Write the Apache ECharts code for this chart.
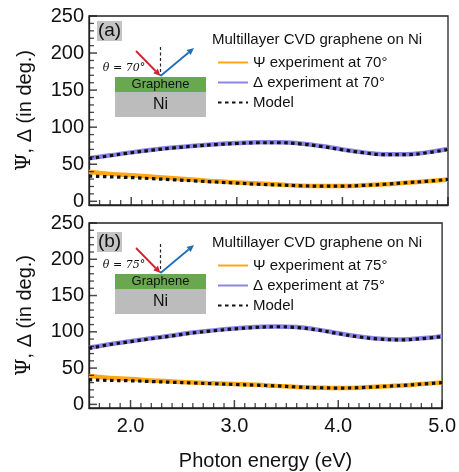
<!DOCTYPE html>
<html><head><meta charset="utf-8">
<script src="https://cdn.jsdelivr.net/npm/echarts@6/dist/echarts.min.js"></script>
<style>html,body{margin:0;padding:0;background:#fff}#c{width:459px;height:472px}</style>
</head><body><div id="c"></div>
<script>
// ---- data ----
const energy = [1.6,1.8,2.0,2.2,2.4,2.6,2.8,3.0,3.2,3.4,3.6,3.8,4.0,4.2,4.4,4.6,4.8,5.0];
// panel (a) 70 deg
const psiExpA   = [40,37,35,33,31,29,27,25.5,24,22.5,21,20.5,20.5,21.5,23,25,27,29.5];
const deltaExpA = [58,62,66,69.5,72.5,75,77,78.5,79.5,79.5,78,74.5,70,66,63.5,63.5,66,70.5];
const psiModA   = [34,33,32,30.5,29,27.5,26,24.5,23,22,21,20.5,20.5,21.5,23,25,27,29.5];
const deltaModA = [57.5,61.5,65.5,69,72,74.5,76.5,78,79,79,77.5,74,69.5,65.5,63,63,65.5,70];
// panel (b) 75 deg
const psiExpB   = [39,36.5,35,33,31.5,30,29,28,27,25.5,24,23,22.5,23,24.5,26,28,30];
const deltaExpB = [78,83,87,91,95,99,102,104.5,106.5,107.5,106.5,103,98,93.5,90.5,89.5,91,94];
const psiModB   = [34,33,32.5,31.5,30.5,29.5,28.5,27.5,26.5,25.5,24,23,22.5,23,24.5,26,28,30];
const deltaModB = [77,82.5,86.5,90.5,94.5,98.5,101.5,104,106,107,106,102.5,97.5,93,90,89,90.5,93.5];
const yMajor = [0,50,100,150,200,250];
const yMinor = [10,20,30,40,60,70,80,90,110,120,130,140,160,170,180,190,210,220,230,240];
const xMajor = [2,3,4,5];
const xMinor = [1.7,1.8,1.9,2.1,2.2,2.3,2.4,2.5,2.6,2.7,2.8,2.9,3.1,3.2,3.3,3.4,3.5,3.6,3.7,3.8,3.9,4.1,4.2,4.3,4.4,4.5,4.6,4.7,4.8,4.9];
const legendA = ['Ψ experiment at 70°','Δ experiment at 70°','Model'];
const legendB = ['Ψ experiment at 75°','Δ experiment at 75°','Model'];
const legendTitle = 'Multillayer CVD graphene on Ni';

const X_MIN = 1.6, X_MAX = 5.0, Y_MIN = -5, Y_MAX = 250;
const ORANGE = '#FFA614', PURPLE = '#8A84E8', BLACK = '#111';
const FONT = 'Liberation Sans, Arial, sans-serif';
const TICK = '#1a1a1a';
const pair = v => energy.map((e,i)=>[e, v[i]]);

const grids = [
  {left:89, top:16, width:359, height:189, show:true, borderColor:'#222', borderWidth:1.3},
  {left:89, top:223, width:359, height:189, show:true, borderColor:'#222', borderWidth:1.3}
];
function xAx(g, showLabels){
  return {
    type:'value', gridIndex:g, min:X_MIN, max:X_MAX, position:'bottom',
    axisLine:{show:true, onZero:false, lineStyle:{color:'#222', width:1.3}},
    axisTick:{show:false},
    axisLabel:{show:showLabels, customValues:xMajor, formatter:v=>v.toFixed(1), fontSize:20, color:'#111', fontFamily:FONT, margin:8},
    splitLine:{show:false},
    name: showLabels ? 'Photon energy (eV)' : '', nameLocation:'middle', nameGap:43,
    nameTextStyle:{fontSize:20, color:'#111', fontFamily:FONT}
  };
}
function yAx(g){
  return {
    type:'value', gridIndex:g, min:Y_MIN, max:Y_MAX, position:'left',
    axisLine:{show:true, onZero:false, lineStyle:{color:'#222', width:1.3}},
    axisTick:{show:false},
    axisLabel:{customValues:yMajor, fontSize:20, color:'#111', fontFamily:FONT, margin:5},
    splitLine:{show:false},
    name:'{s|Ψ}, Δ (in deg.)', nameLocation:'middle', nameGap:54,
    nameTextStyle:{fontSize:20, color:'#111', fontFamily:FONT,
      rich:{s:{fontSize:20, fontFamily:'DejaVu Serif, serif', color:'#111'}}}
  };
}
// inward tick marks drawn through the axes' own scales
function xTicks(vals, len, w, ax){
  return {type:'scatter', data:vals.map(v=>[v, Y_MIN]), xAxisIndex:ax, yAxisIndex:ax,
    symbol:'rect', symbolSize:[w, len], symbolOffset:[0, -len/2], clip:false, silent:true,
    itemStyle:{color:TICK}, z:6, animation:false};
}
function yTicks(vals, len, w, ax){
  return {type:'scatter', data:vals.map(v=>[X_MIN, v]), xAxisIndex:ax, yAxisIndex:ax,
    symbol:'rect', symbolSize:[len, w], symbolOffset:[len/2, 0], clip:false, silent:true,
    itemStyle:{color:TICK}, z:6, animation:false};
}
function expSeries(name, data, color, ax){
  return {type:'line', name, data:pair(data), xAxisIndex:ax, yAxisIndex:ax, smooth:true,
    symbol:'none', lineStyle:{color, width:4.5}, itemStyle:{color}, z:2};
}
function modSeries(data, ax){
  return {type:'line', name:'Model', data:pair(data), xAxisIndex:ax, yAxisIndex:ax, smooth:true,
    symbol:'none', lineStyle:{color:BLACK, width:3.2, type:[3.5,3.5], cap:'butt'}, itemStyle:{color:BLACK}, z:3};
}
function legend(data, top){
  return {data, orient:'vertical', left:212, top, itemWidth:30, itemHeight:14, itemGap:5,
    itemStyle:{opacity:0, borderWidth:0},
    textStyle:{fontSize:15, color:'#111', fontFamily:FONT}, selectedMode:false};
}
function arrow(x1,y1,x2,y2,color){
  const dx=x2-x1, dy=y2-y1, L=Math.hypot(dx,dy), ux=dx/L, uy=dy/L;
  const h=7, w=3.2;
  const bx=x2-ux*h, by=y2-uy*h;
  return [
    {type:'line', shape:{x1,y1,x2:bx,y2:by}, style:{stroke:color, lineWidth:1.8}, z:20},
    {type:'polygon', shape:{points:[[x2,y2],[bx-uy*w,by+ux*w],[bx+uy*w,by-ux*w]]}, style:{fill:color}, z:20}
  ];
}
function inset(dy, lab, labDy, angle, titleDy){
  return [
    {type:'rect', shape:{x:97, y:21+labDy, width:25, height:20}, style:{fill:'#c4c4c4'}, z:10},
    {type:'text', x:109.5, y:31+labDy, style:{text:lab, font:'19px '+FONT, fill:'#111', align:'center', verticalAlign:'middle'}, z:11},
    {type:'rect', shape:{x:115, y:77+dy, width:91, height:15}, style:{fill:'#6aa84f'}, z:10},
    {type:'rect', shape:{x:115, y:92+dy, width:91, height:25}, style:{fill:'#bcbcbc'}, z:10},
    {type:'text', x:160.5, y:84.5+dy, style:{text:'Graphene', font:'13px '+FONT, fill:'#111', align:'center', verticalAlign:'middle'}, z:11},
    {type:'text', x:160.5, y:104.5+dy, style:{text:'Ni', font:'16px '+FONT, fill:'#111', align:'center', verticalAlign:'middle'}, z:11},
    {type:'line', shape:{x1:160.5, y1:47+dy, x2:160.5, y2:76+dy}, style:{stroke:'#222', lineWidth:1.2, lineDash:[3,2.5]}, z:12},
    ...arrow(136,51+dy,160.5,76+dy,'#d3202f'),
    ...arrow(160.5,76+dy,194,48+dy,'#1f6fb8'),
    {type:'text', x:124, y:68+dy, style:{text:'θ = '+angle+'°', font:'italic 11px DejaVu Serif, serif', fill:'#111', align:'center', verticalAlign:'middle'}, z:11},
    {type:'text', x:212, y:40+titleDy, style:{text:legendTitle, font:'15px '+FONT, fill:'#111', align:'left', verticalAlign:'middle'}, z:11}
  ];
}

const chart = echarts.init(document.getElementById('c'));
chart.setOption({
  animation:false,
  grid: grids,
  xAxis:[xAx(0,false), xAx(1,true)],
  yAxis:[yAx(0), yAx(1)],
  legend:[legend(legendA, 50), legend(legendB, 253)],
  series:[
    expSeries(legendA[0], psiExpA, ORANGE, 0),
    expSeries(legendA[1], deltaExpA, PURPLE, 0),
    modSeries(psiModA, 0),
    modSeries(deltaModA, 0),
    expSeries(legendB[0], psiExpB, ORANGE, 1),
    expSeries(legendB[1], deltaExpB, PURPLE, 1),
    modSeries(psiModB, 1),
    modSeries(deltaModB, 1),
    xTicks(xMajor, 8, 1.5, 0), xTicks(xMinor, 5, 1.3, 0),
    yTicks(yMajor, 8, 1.5, 0), yTicks(yMinor, 5, 1.3, 0),
    xTicks(xMajor, 8, 1.5, 1), xTicks(xMinor, 5, 1.3, 1),
    yTicks(yMajor, 8, 1.5, 1), yTicks(yMinor, 5, 1.3, 1)
  ],
  graphic:[...inset(0,'(a)',0,70,0), ...inset(197,'(b)',211,75,203)]
});
</script></body></html>
